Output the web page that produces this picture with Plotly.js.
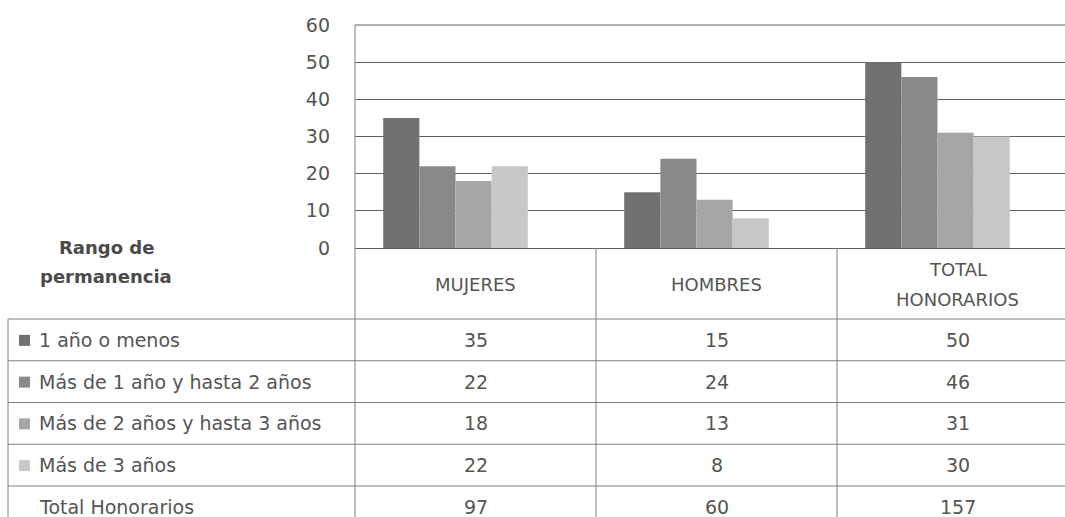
<!DOCTYPE html>
<html>
<head>
<meta charset="utf-8">
<script src="https://cdn.plot.ly/plotly-3.0.1.min.js"></script>
<style>html,body{margin:0;padding:0;background:#fff;}#chart{width:1065px;height:517px;}</style>
</head>
<body>
<div id="chart"></div>
<script>
// ---- data ----
const categories = ['MUJERES', 'HOMBRES', 'TOTAL HONORARIOS'];
const headerLabels = ['MUJERES', 'HOMBRES', 'TOTAL<br>HONORARIOS'];
const seriesNames = ['1 año o menos', 'Más de 1 año y hasta 2 años', 'Más de 2 años y hasta 3 años', 'Más de 3 años'];
const unoOMenos = [35, 15, 50];
const unoADos = [22, 24, 46];
const dosATres = [18, 13, 31];
const masDeTres = [22, 8, 30];
const totalLabel = 'Total Honorarios';
const totals = [97, 60, 157];
const yTickVals = [0, 10, 20, 30, 40, 50, 60];
const tableTitle = ['Rango de', 'permanencia'];

// ---- styles ----
const colors = ['#717171', '#898989', '#a6a6a6', '#c8c8c8'];
const txt = '#555555';
const lineCol = '#808080';
const gridCol = '#606060';
const FONT = 'DejaVu Sans';

const W = 1065, H = 517;
const L = 355, T = 25, B = 248;          // plot area in pixels
const px = X => (X - L) / (W - L);
const py = Y => (B - Y) / (B - T);
const colShift = 0.083;                  // table columns are offset from bar groups
const headerBottom = 319, rowH = 41.75, tableLeft = 8, tableBottom = 540;

const seriesVals = [unoOMenos, unoADos, dosATres, masDeTres];
const traces = seriesVals.map((v, i) => ({
  type: 'bar', x: categories, y: v, name: seriesNames[i],
  marker: {color: colors[i], line: {width: 0}}, showlegend: false, hoverinfo: 'skip'
}));

const shapes = [];
const annotations = [];
// top gridline
shapes.push({type: 'line', xref: 'paper', yref: 'paper', x0: 0, x1: 1, y0: 1, y1: 1, line: {color: gridCol, width: 1}});
// left axis line continuing into table
shapes.push({type: 'line', xref: 'paper', yref: 'paper', x0: 0, x1: 0, y0: 1, y1: py(tableBottom), line: {color: lineCol, width: 1}});
// column separators
[0, 1].forEach(i => shapes.push({type: 'line', xref: 'x', yref: 'paper', x0: i + 0.5 + colShift, x1: i + 0.5 + colShift, y0: 0, y1: py(tableBottom), line: {color: lineCol, width: 1}}));
// horizontal row lines
for (let r = 0; r < 5; r++) {
  const Y = headerBottom + r * rowH;
  shapes.push({type: 'line', xref: 'paper', yref: 'paper', x0: px(tableLeft), x1: 1, y0: py(Y), y1: py(Y), line: {color: lineCol, width: 1}});
}
// left table border
shapes.push({type: 'line', xref: 'paper', yref: 'paper', x0: px(tableLeft), x1: px(tableLeft), y0: py(headerBottom), y1: py(tableBottom), line: {color: lineCol, width: 1}});

// header labels (each line placed separately for the wider line spacing)
headerLabels.forEach((h, i) => {
  const lines = h.split('<br>');
  const mid = (B + headerBottom) / 2 + 1;
  lines.forEach((ln, k) => annotations.push({
    xref: 'x', yref: 'paper', x: i + colShift, y: py(mid + (k - (lines.length - 1) / 2) * 30), text: ln, showarrow: false,
    xanchor: 'center', yanchor: 'middle', font: {family: FONT, size: 18, color: txt}
  }));
});
// table title
tableTitle.forEach((t, k) => annotations.push({xref: 'paper', yref: 'paper', x: px(106), y: py(247 + k * 29), text: '<b>' + t + '</b>', showarrow: false,
  xanchor: 'center', yanchor: 'middle', font: {family: FONT, size: 18, color: '#4a4a4a'}}));

const rowLabels = seriesNames.concat([totalLabel]);
const rowVals = seriesVals.concat([totals]);
rowLabels.forEach((lab, r) => {
  const cy = headerBottom + r * rowH + rowH / 2;
  if (r < 4) {
    shapes.push({type: 'rect', xref: 'paper', yref: 'paper', x0: px(19), x1: px(30), y0: py(cy - 5), y1: py(cy + 6), fillcolor: colors[r], line: {width: 0}});
  }
  annotations.push({xref: 'paper', yref: 'paper', x: px(37), y: py(cy), text: lab, showarrow: false,
    xanchor: 'left', yanchor: 'middle', font: {family: FONT, size: 19, color: txt}});
  rowVals[r].forEach((v, i) => annotations.push({xref: 'x', yref: 'paper', x: i + colShift, y: py(cy), text: String(v), showarrow: false,
    xanchor: 'center', yanchor: 'middle', font: {family: FONT, size: 19, color: txt}}));
});

const layout = {
  width: W, height: H,
  margin: {l: L, r: 0, t: T, b: H - B, pad: 0},
  paper_bgcolor: '#fff', plot_bgcolor: '#fff',
  barmode: 'group', bargap: 0.4, bargroupgap: 0,
  xaxis: {type: 'category', range: [-0.5 + colShift, -0.5 + colShift + (W - L) / 241], showticklabels: false,
    showgrid: false, zeroline: false, showline: true, linecolor: gridCol, linewidth: 1, ticks: '', fixedrange: true},
  yaxis: {range: [0, 60], tickvals: yTickVals, showgrid: true, gridcolor: gridCol, gridwidth: 1,
    zeroline: false, showline: false, ticks: '', ticklabelstandoff: 24,
    tickfont: {family: FONT, size: 19, color: txt}, fixedrange: true},
  shapes: shapes, annotations: annotations, showlegend: false
};

Plotly.newPlot('chart', traces, layout, {displayModeBar: false, staticPlot: true});
</script>
</body>
</html>
